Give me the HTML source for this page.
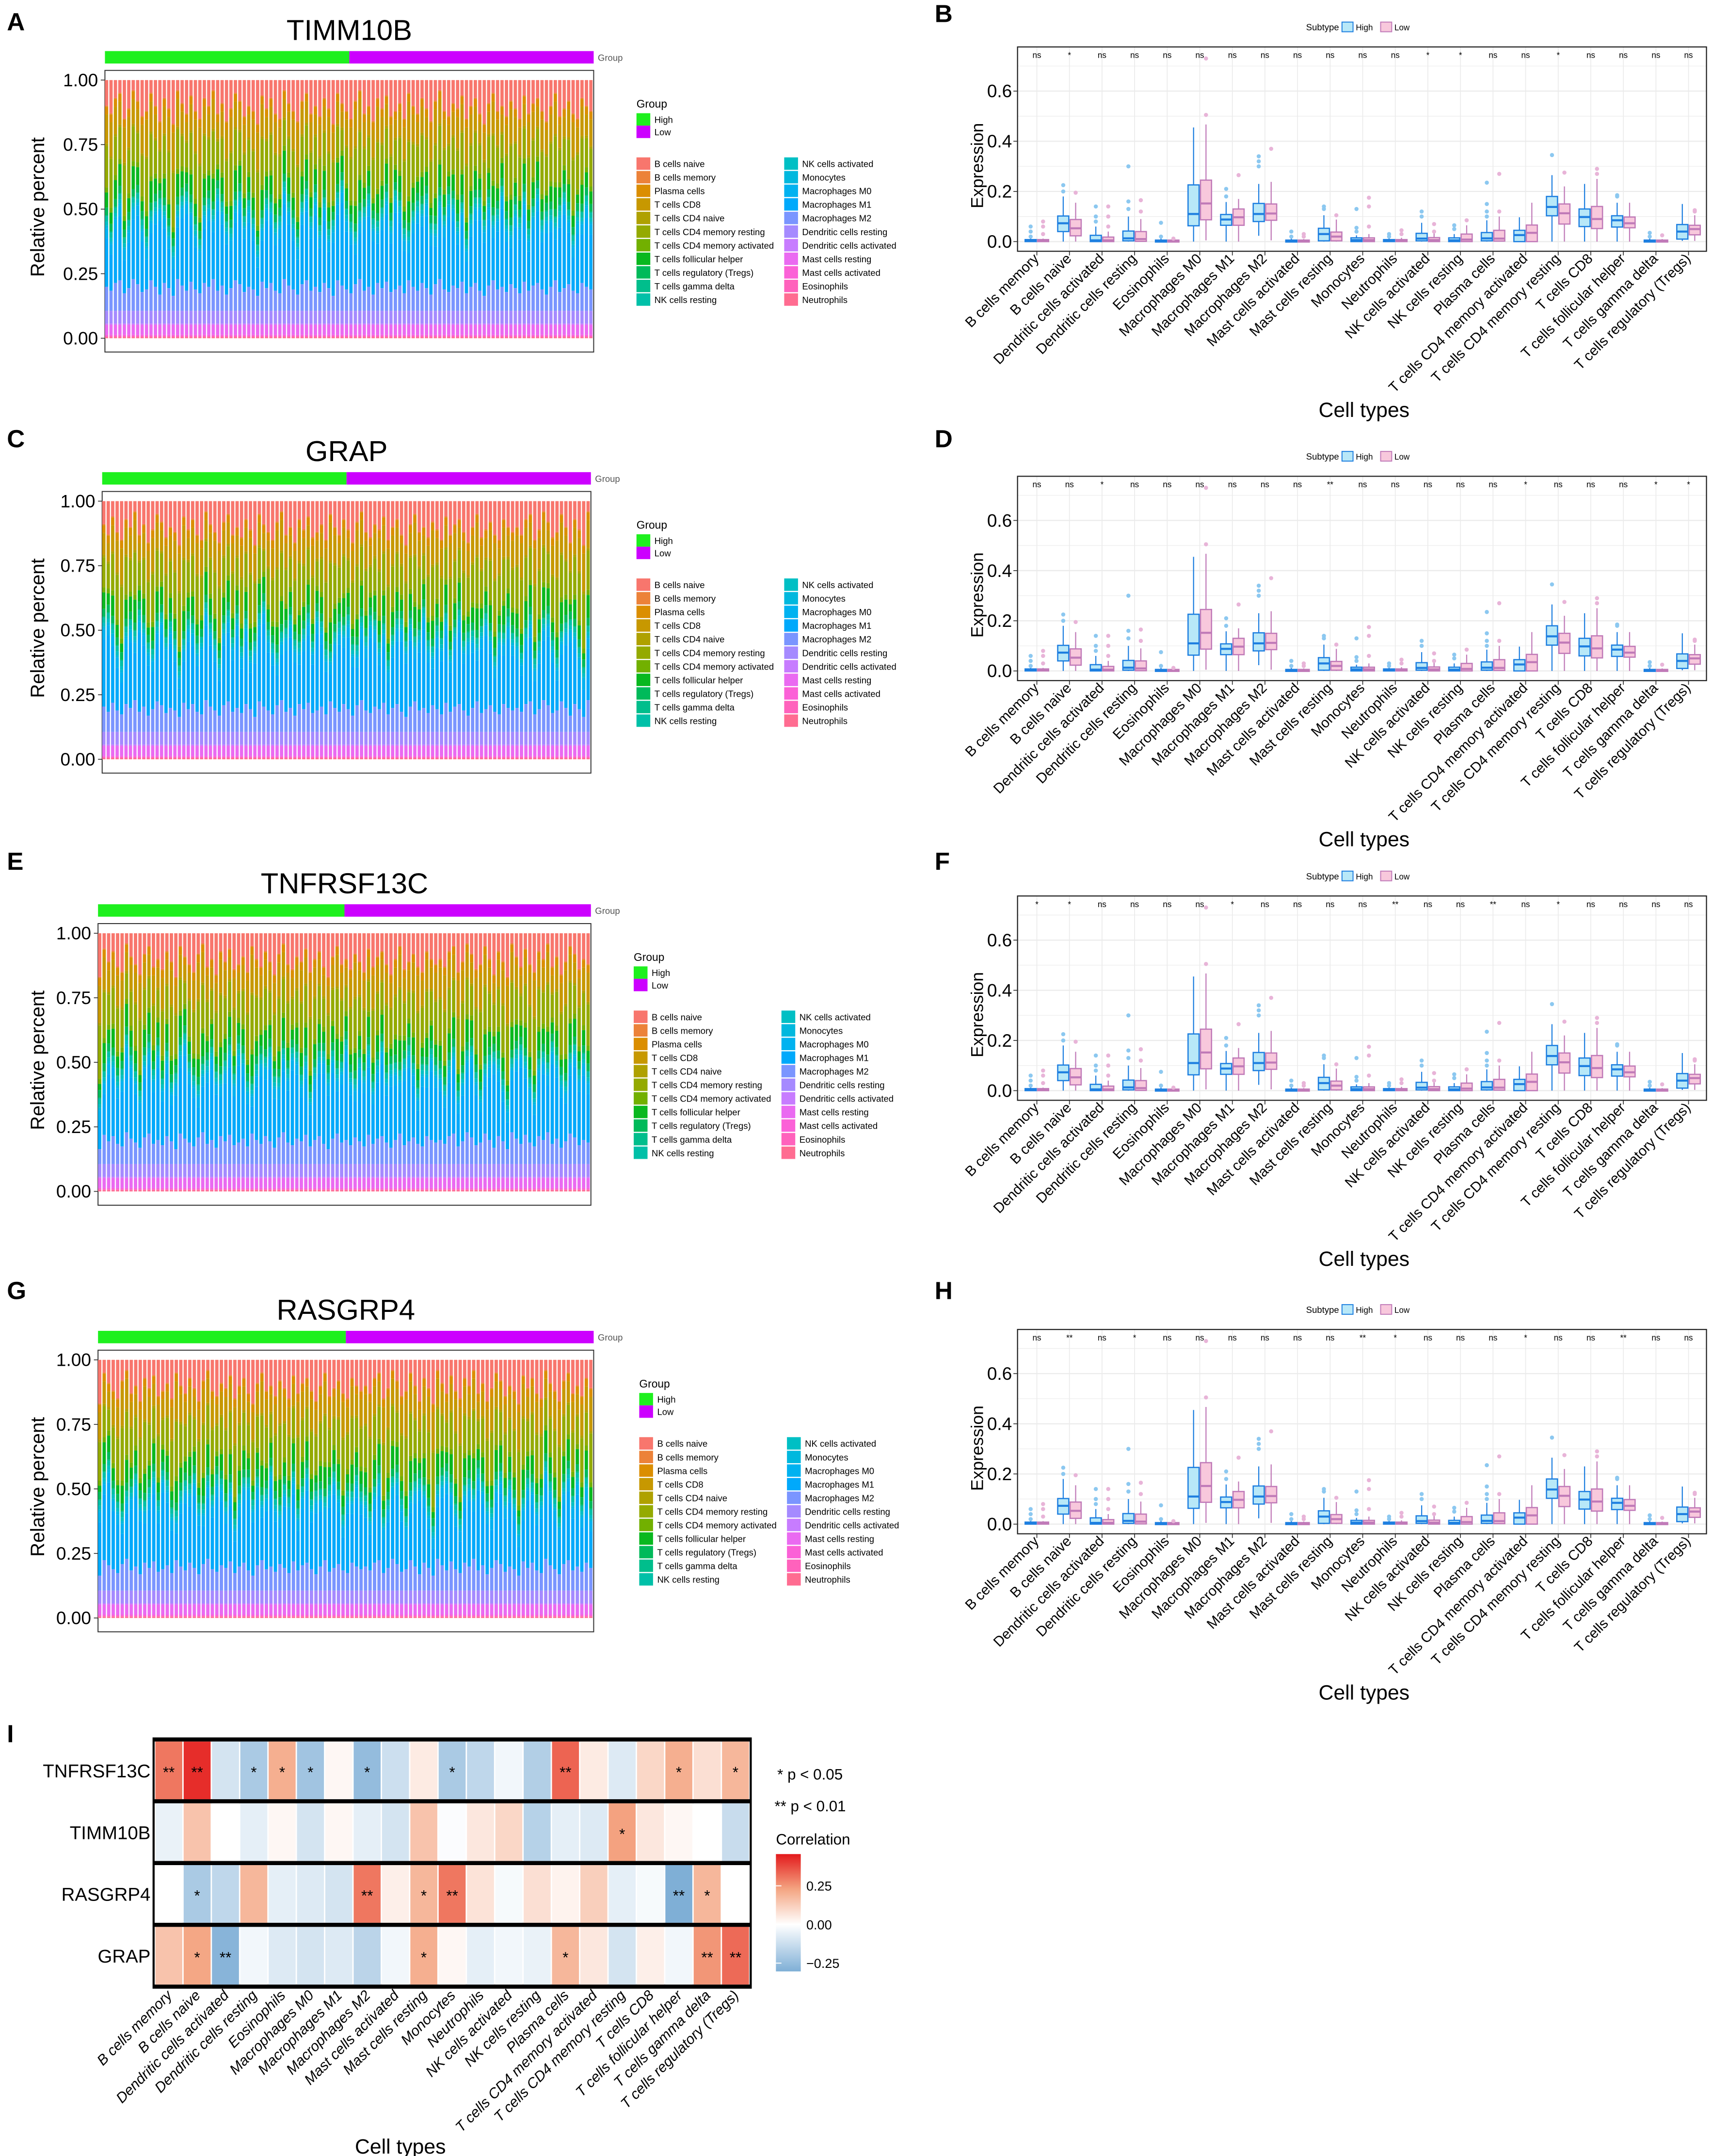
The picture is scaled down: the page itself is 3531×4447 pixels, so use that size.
<!DOCTYPE html>
<html><head><meta charset="utf-8">
<style>
html,body{margin:0;padding:0;background:#fff;}
svg{display:block;}
text{font-family:"Liberation Sans Narrow","Liberation Sans",sans-serif;}
</style></head>
<body>
<svg id="fig" xmlns="http://www.w3.org/2000/svg" width="3531" height="4447" viewBox="0 0 1240 1561.7" preserveAspectRatio="none">
<defs>
<linearGradient id="corrGrad" x1="0" y1="0" x2="0" y2="1">
<stop offset="0" stop-color="#E31A1C"/>
<stop offset="0.3" stop-color="#F4A582"/>
<stop offset="0.6" stop-color="#FFFFFF"/>
<stop offset="1" stop-color="#7FAFD6"/>
</linearGradient>
</defs>
</svg>
<script>
// ---------------- data ----------------
const cellTypes = ["B cells memory","B cells naive","Dendritic cells activated","Dendritic cells resting","Eosinophils","Macrophages M0","Macrophages M1","Macrophages M2","Mast cells activated","Mast cells resting","Monocytes","Neutrophils","NK cells activated","NK cells resting","Plasma cells","T cells CD4 memory activated","T cells CD4 memory resting","T cells CD8","T cells follicular helper","T cells gamma delta","T cells regulatory (Tregs)"];
const highQ1  = [0,0.04,0,0.003,0,0.063,0.065,0.08,0,0.003,0,0,0.003,0,0.003,0,0.103,0.06,0.058,0,0.01];
const highMed = [0.003,0.073,0.005,0.013,0.002,0.11,0.088,0.11,0.002,0.03,0.006,0.003,0.012,0.005,0.013,0.026,0.138,0.098,0.085,0.002,0.04];
const highQ3  = [0.008,0.102,0.025,0.042,0.006,0.226,0.108,0.152,0.006,0.053,0.015,0.008,0.033,0.015,0.036,0.045,0.18,0.13,0.103,0.006,0.068];
const highWLo = [0,0,0,0,0,0,0,0.023,0,0,0,0,0,0,0,0,0,0,0,0,0.003];
const highWHi = [0.012,0.18,0.06,0.1,0.012,0.455,0.158,0.23,0.012,0.105,0.025,0.015,0.075,0.03,0.085,0.097,0.265,0.23,0.155,0.012,0.15];
const highOut = [[0.02,0.04,0.06],[0.2,0.225],[0.08,0.1,0.14],[0.13,0.16,0.3],[0.02,0.075],[],[0.18,0.21],[0.3,0.32,0.34],[0.02,0.04],[0.13,0.14],[0.04,0.055,0.13],[0.02,0.03],[0.1,0.12],[0.05,0.065],[0.1,0.12,0.15,0.235],[],[0.345],[],[0.18,0.185],[0.02,0.035],[]];
const lowQ1  = [0,0.023,0,0.001,0,0.087,0.065,0.085,0,0.003,0,0,0,0,0.002,0,0.07,0.052,0.055,0,0.027];
const lowMed = [0.003,0.053,0.005,0.01,0.002,0.152,0.097,0.112,0.002,0.02,0.006,0.003,0.006,0.008,0.012,0.035,0.113,0.09,0.073,0.002,0.05];
const lowQ3  = [0.008,0.088,0.018,0.04,0.006,0.245,0.13,0.15,0.006,0.038,0.015,0.008,0.016,0.03,0.045,0.066,0.15,0.14,0.098,0.006,0.065];
const lowWLo = [0,0,0,0,0,0.005,0,0.005,0,0,0,0,0,0,0,0,0,0,0,0,0.003];
const lowWHi = [0.012,0.155,0.04,0.09,0.01,0.467,0.17,0.238,0.01,0.088,0.03,0.015,0.035,0.065,0.1,0.155,0.22,0.25,0.155,0.01,0.105];
const lowOut = [[0.03,0.06,0.08],[0.195],[0.06,0.1,0.14],[0.12,0.165],[0.012],[0.505,0.73],[0.265],[0.37],[0.02,0.03],[0.105],[0.06,0.14,0.175],[0.03,0.045],[0.04,0.07],[0.085],[0.12,0.27],[],[0.275],[0.27,0.29],[],[0.025],[0.12,0.125]];
const sigB = ["ns","*","ns","ns","ns","ns","ns","ns","ns","ns","ns","ns","*","*","ns","ns","*","ns","ns","ns","ns"];
const sigD = ["ns","ns","*","ns","ns","ns","ns","ns","ns","**","ns","ns","ns","ns","ns","*","ns","ns","ns","*","*"];
const sigF = ["*","*","ns","ns","ns","ns","*","ns","ns","ns","ns","**","ns","ns","**","ns","*","ns","ns","ns","ns"];
const sigH = ["ns","**","ns","*","ns","ns","ns","ns","ns","ns","**","*","ns","ns","ns","*","ns","ns","**","ns","ns"];
const yTicksBox = [0.0,0.2,0.4,0.6];

const stackTypes = ["B cells naive","B cells memory","Plasma cells","T cells CD8","T cells CD4 naive","T cells CD4 memory resting","T cells CD4 memory activated","T cells follicular helper","T cells regulatory (Tregs)","T cells gamma delta","NK cells resting","NK cells activated","Monocytes","Macrophages M0","Macrophages M1","Macrophages M2","Dendritic cells resting","Dendritic cells activated","Mast cells resting","Mast cells activated","Eosinophils","Neutrophils"];
const stackColors = ["#F8766D","#EC8239","#DB8E00","#C79800","#AFA100","#94AA00","#72B000","#09B81F","#00BA5A","#00BE8C","#00C0A8","#00BFC4","#00B8DE","#00B2F0","#00A9FB","#7A95FF","#A58AFF","#C77CFF","#EA6AF1","#FB61D7","#FF62BC","#FF6C91"];
const meanComposition = [0.07,0.005,0.03,0.12,0.01,0.17,0.02,0.075,0.03,0.005,0.02,0.015,0.01,0.04,0.18,0.11,0.05,0.005,0.04,0.005,0.003,0.005];
const sampleShift = [0.02,-0.06,0.05,0.12,-0.08,0.0,0.09,0.15,0.03,-0.1,0.01,0.11,0.18,0.06,-0.04,-0.12,0.04,0.14,0.2,0.07,-0.02,-0.09,0.06,0.13,0.01,0.22,0.1,0.03,-0.05,0.08,0.16,0.05,0.12,0.02,-0.11,-0.03,0.14,0.08,0.0,0.06,0.19,0.1,0.02,-0.07,0.09,0.15,0.04,0.17,-0.01,0.11,-0.06,0.05,0.13,0.24,0.08,0.02,-0.1,0.0,0.1,0.16,0.05,-0.04,0.08,0.14,0.02,0.2,0.11,-0.02,-0.12,0.05,0.14,0.07,0.17,0.02,-0.05,0.1,0.04,0.19,0.12,-0.01,0.07,-0.09,0.03,0.11,0.16,0.05,0.13,-0.02,0.08,0.21,0.03,-0.06,0.1,0.05,0.14,-0.04,0.07,0.17,0.01,0.1,0.06,-0.03,0.12,0.18,0.04,-0.08,0.09,0.02,0.15,0.06];
const redShift = [0.03,0.06,0.0,-0.02,0.08,0.04,-0.03,0.01,0.07,0.05,-0.02,0.03,0.09,0.0,0.04,0.1,-0.03,0.02,0.06,-0.01,0.05,0.08,0.0,0.03,-0.03,0.06,0.02,0.09,0.04,-0.02,0.01,0.07,0.03,0.05,0.1,-0.01,0.04,0.0,0.06,0.08,-0.03,0.02,0.05,0.09,0.01,-0.02,0.06,0.03,0.07,0.0,0.04,0.1,-0.02,0.02,0.05,0.08,0.01,-0.03,0.06,0.03,0.09,0.0,0.04,-0.01,0.07,0.05,0.02,0.08,-0.02,0.03,0.06,0.0,0.04,0.09,0.01,-0.03,0.05,0.07,0.02,0.04,-0.01,0.08,0.03,0.0,0.06,0.1,0.02,-0.02,0.05,0.03,0.07,0.01,0.04,0.08,-0.01,0.06,0.02,0.0,0.05,0.09,0.03,-0.02,0.07,0.04,0.01,0.06,0.08,0.0,0.03,0.05];
const genes = ["TIMM10B","GRAP","TNFRSF13C","RASGRP4"];

const heatRows = ["TNFRSF13C","TIMM10B","RASGRP4","GRAP"];
const corrTNF = [0.3,0.42,-0.1,-0.2,0.2,-0.22,0.02,-0.25,-0.12,0.05,-0.2,-0.15,-0.03,-0.18,0.33,0.05,-0.08,0.1,0.2,0.08,0.18];
const corrTIM = [-0.05,0.15,0,-0.06,0.02,-0.1,0.02,-0.06,-0.1,0.15,-0.01,0.06,0.1,-0.17,-0.06,-0.08,0.23,0.06,0.02,0.0,-0.13];
const corrRAS = [0,-0.2,-0.15,0.18,-0.06,-0.08,-0.1,0.3,0.04,0.18,0.3,0.07,-0.02,0.08,0.03,0.12,-0.06,-0.02,-0.3,0.18,0];
const corrGRA = [0.15,0.22,-0.28,-0.03,-0.08,-0.1,-0.08,-0.16,-0.03,0.2,0.02,-0.06,-0.03,-0.05,0.18,0.06,-0.1,0.04,-0.03,0.25,0.32];
const starTNF = ["**","**","","*","*","*","","*","","","*","","","","**","","","","*","","*"];
const starTIM = ["","","","","","","","","","","","","","","","","*","","","",""];
const starRAS = ["","*","","","","","","**","","*","**","","","","","","","","**","*",""];
const starGRA = ["","*","**","","","","","","","*","","","","","*","","","","","**","**"];
const corrTicks = [0.25,0.0,-0.25];

// ---------------- helpers ----------------
const NS = "http://www.w3.org/2000/svg";
const svg = document.getElementById("fig");
function mk(tag, attrs, parent){
  const e = document.createElementNS(NS, tag);
  for (const k in attrs) e.setAttribute(k, attrs[k]);
  (parent||svg).appendChild(e);
  return e;
}
function txt(s, attrs, parent){ const t = mk("text", attrs, parent); t.textContent = s; return t; }

// ---------------- panel letters ----------------
const letters = [["A",5,22],["B",677,16],["C",5,324],["D",677,324],["E",5,630],["F",677,630],["G",5,941],["H",677,941],["I",5,1262]];
letters.forEach(l=>{
  const t = txt(l[0],{x:l[1],y:l[2],"font-size":18,"font-weight":"bold","font-family":"Liberation Sans, sans-serif"});
  
  
});

// ---------------- stacked bar panels ----------------
const stackPanels = [{dy:0,x0:76,x1:430,lx:461},{dy:305,x0:74,x1:428,lx:461},{dy:618,x0:71,x1:428,lx:459},{dy:927,x0:71,x1:430,lx:463}];
stackPanels.forEach((p,pi)=>{
  const g = mk("g",{});
  
  
  const dy = p.dy;
  const yS = v => dy + 245 - v*187;
  const title = txt(genes[pi],{x:(p.x0+p.x1)/2,y:dy+29,"text-anchor":"middle","font-size":21,"font-family":"Liberation Sans, sans-serif"},g);
  
  
  const mid = (p.x0+p.x1)/2;
  const gh = mk("rect",{x:p.x0,y:dy+37,width:mid-p.x0,height:9,fill:"#1EF01E"},g);
  
  
  const gl = mk("rect",{x:mid,y:dy+37,width:p.x1-mid,height:9,fill:"#CC00FF"},g);
  
  
  const gt = txt("Group",{x:p.x1+3,y:dy+44,"font-size":6.5,fill:"#555"},g);
  
  
  const frame = mk("rect",{x:p.x0,y:dy+51,width:p.x1-p.x0,height:204,fill:"none",stroke:"#333","stroke-width":0.7},g);
  
  
  const n = sampleShift.length;
  const step = (p.x1-p.x0)/n;
  const sumMean = meanComposition.reduce((a,b)=>a+b,0);
  for (let s=0;s<n;s++){
    const comp = meanComposition.map(v=>v/sumMean);
    const idx = (s + pi*17) % n;
    const sh = sampleShift[idx]*0.6;
    comp[14] += sh;
    comp[5] -= sh*0.6;
    comp[3] -= sh*0.4;
    comp[0] += redShift[idx];
    comp[15] -= redShift[idx]*0.5;
    comp[7] -= redShift[idx]*0.5;
    let top = 1.0;
    const bx = p.x0 + s*step;
    for (let k=0;k<comp.length;k++){
      const h = Math.max(0,comp[k]);
      const r = mk("rect",{x:bx,y:yS(top),width:step*0.74,height:Math.max(0,yS(Math.max(0,top-h))-yS(top)),fill:stackColors[k]},g);
      
      
      top -= h;
    }
    if (top > 0){
      const r = mk("rect",{x:bx,y:yS(top),width:step*0.74,height:yS(0)-yS(top),fill:stackColors[21]},g);
      
      
    }
  }
  [0,0.25,0.5,0.75,1].forEach(v=>{
    const tl = mk("line",{x1:p.x0-3,x2:p.x0,y1:yS(v),y2:yS(v),stroke:"#333","stroke-width":0.6},g);
    
    
    const tt = txt(v.toFixed(2),{x:p.x0-5,y:yS(v)+4.5,"text-anchor":"end","font-size":13},g);
    
    
  });
  const yl = txt("Relative percent",{x:0,y:0,transform:`translate(32,${dy+150}) rotate(-90)`,"text-anchor":"middle","font-size":14,"font-family":"Liberation Sans, sans-serif"},g);
  
  
  // legend
  const lg = txt("Group",{x:p.lx,y:dy+78,"font-size":8},g);
  
  
  [["High","#1EF01E"],["Low","#CC00FF"]].forEach((e,i)=>{
    const r = mk("rect",{x:p.lx,y:dy+82+i*9,width:10,height:9,fill:e[1]},g);
    
    
    const t = txt(e[0],{x:p.lx+13,y:dy+89+i*9,"font-size":6.5},g);
    
    
  });
  stackTypes.forEach((name,k)=>{
    const col = k<11?0:1, row = k%11;
    const lx = p.lx + col*107, ly = dy + 114 + row*9.85;
    const r = mk("rect",{x:lx,y:ly,width:10,height:9,fill:stackColors[k]},g);
    
    
    const t = txt(name,{x:lx+13,y:ly+7,"font-size":6.5},g);
    
    
  });
});

// ---------------- box plot panels ----------------
const boxPanels = [{dy:0,sig:sigB,L:"B"},{dy:311,sig:sigD,L:"D"},{dy:615,sig:sigF,L:"F"},{dy:929,sig:sigH,L:"H"}];
boxPanels.forEach(p=>{
  const g = mk("g",{});
  
  
  const dy = p.dy;
  const X0 = 737, X1 = 1236, Y0 = dy+34, Y1 = dy+182;
  const yS = v => dy + 175 - v*181.7;
  const step = 23.6;
  const xS = i => 751 + i*step;
  // legend
  const lt = txt("Subtype",{x:946,y:dy+22,"font-size":6.5},g);
  
  
  [["High","#B8E8F8","#1E7FE0",972],["Low","#F8C8DC","#C07AB8",1000]].forEach(e=>{
    const r = mk("rect",{x:e[3],y:dy+16,width:8,height:7,fill:e[1],stroke:e[2],"stroke-width":0.7},g);
    
    
    const t = txt(e[0],{x:e[3]+10,y:dy+22,"font-size":6},g);
    
    
  });
  // grid
  for (let v=0; v<=0.8; v+=0.1){
    const yy = yS(v);
    if (yy < Y0) break;
    const gl = mk("line",{x1:X0,x2:X1,y1:yy,y2:yy,stroke:"#EBEBEB","stroke-width":Math.round(v*10)%2===0?0.8:0.4},g);
    
    
  }
  cellTypes.forEach((c,i)=>{
    const gl = mk("line",{x1:xS(i),x2:xS(i),y1:Y0,y2:Y1,stroke:"#EBEBEB","stroke-width":0.6},g);
    
    
  });
  // boxes
  const series = [
    {q1:highQ1,md:highMed,q3:highQ3,lo:highWLo,hi:highWHi,out:highOut,fill:"#B8E8F8",stroke:"#1E7FE0",oc:"#8CC8F0",off:-8.5,name:"high"},
    {q1:lowQ1,md:lowMed,q3:lowQ3,lo:lowWLo,hi:lowWHi,out:lowOut,fill:"#F8C8DC",stroke:"#C07AB8",oc:"#E8B4D8",off:0.5,name:"low"}
  ];
  cellTypes.forEach((c,i)=>{
    series.forEach(s=>{
      const bx = xS(i)+s.off, bw = 8, cx = bx+bw/2;
      const w = mk("line",{x1:cx,x2:cx,y1:yS(s.lo[i]),y2:yS(s.hi[i]),stroke:s.stroke,"stroke-width":0.8},g);
      
      
      const b = mk("rect",{x:bx,y:yS(s.q3[i]),width:bw,height:Math.max(1.4,yS(s.q1[i])-yS(s.q3[i])),fill:s.fill,stroke:s.stroke,"stroke-width":0.9},g);
      
      
      const m = mk("line",{x1:bx,x2:bx+bw,y1:yS(s.md[i]),y2:yS(s.md[i]),stroke:s.stroke,"stroke-width":1.5},g);
      
      
      s.out[i].forEach(o=>{
        const ci = mk("circle",{cx:cx,cy:yS(o),r:1.5,fill:s.oc},g);
        
        
      });
    });
    const st = txt(p.sig[i],{x:xS(i),y:dy+42,"text-anchor":"middle","font-size":6},g);
    
    
    const tk = mk("line",{x1:xS(i),x2:xS(i),y1:Y1,y2:Y1+3,stroke:"#333","stroke-width":0.6},g);
    
    
    const xl = txt(c,{x:0,y:0,transform:`translate(${xS(i)+2},${Y1+6}) rotate(-45)`,"text-anchor":"end","font-size":10.3,"font-family":"Liberation Sans, sans-serif"},g);
    
    
  });
  const frame = mk("rect",{x:X0,y:Y0,width:X1-X0,height:Y1-Y0,fill:"none",stroke:"#222","stroke-width":0.8},g);
  
  
  yTicksBox.forEach(v=>{
    const tl = mk("line",{x1:X0-3,x2:X0,y1:yS(v),y2:yS(v),stroke:"#333","stroke-width":0.6},g);
    
    
    const tt = txt(v.toFixed(1),{x:X0-4,y:yS(v)+4.5,"text-anchor":"end","font-size":13},g);
    
    
  });
  const yl = txt("Expression",{x:0,y:0,transform:`translate(712,${dy+120}) rotate(-90)`,"text-anchor":"middle","font-size":12.5,"font-family":"Liberation Sans, sans-serif"},g);
  
  
  const xt = txt("Cell types",{x:988,y:dy+302,"text-anchor":"middle","font-size":15,"font-family":"Liberation Sans, sans-serif"},g);
  
  
});

// ---------------- heatmap ----------------
(function(){
  const g = mk("g",{});
  
  
  const corrRows = [corrTNF,corrTIM,corrRAS,corrGRA];
  const starRows = [starTNF,starTIM,starRAS,starGRA];
  const HX0 = 112, HX1 = 543, HY0 = 1260, HY1 = 1439;
  const cw = (HX1-HX0)/cellTypes.length, rh = (HY1-HY0)/heatRows.length;
  function mix(a,b,t){ return a.map((v,i)=>Math.round(v+(b[i]-v)*t)); }
  function color(v){
    let c;
    if (v>=0){
      const t = Math.min(1,v/0.45);
      c = t<0.5 ? mix([255,255,255],[244,165,130],t/0.5) : mix([244,165,130],[228,26,28],(t-0.5)/0.5);
    } else {
      const t = Math.min(1,-v/0.3);
      c = mix([255,255,255],[127,175,214],t);
    }
    return `rgb(${c[0]},${c[1]},${c[2]})`;
  }
  const bg = mk("rect",{x:HX0-1.5,y:HY0-1.5,width:HX1-HX0+3,height:HY1-HY0+3,fill:"#000"},g);
  
  
  heatRows.forEach((rn,r)=>{
    const y = HY0 + r*rh;
    const band = mk("rect",{x:HX0,y:y+1.5,width:HX1-HX0,height:rh-3,fill:"#fff"},g);
    
    
    cellTypes.forEach((c,i)=>{
      const x = HX0 + i*cw;
      const cell = mk("rect",{x:x+0.5,y:y+1.5,width:cw-1,height:rh-3,fill:color(corrRows[r][i])},g);
      
      
      if (starRows[r][i]){
        const st = txt(starRows[r][i],{x:x+cw/2,y:y+rh/2+5,"text-anchor":"middle","font-size":11},g);
        
        
      }
    });
    const rl = txt(rn,{x:HX0-3,y:y+rh/2+5,"text-anchor":"end","font-size":13.5},g);
    
    
  });
  cellTypes.forEach((c,i)=>{
    const x = HX0 + i*cw + cw/2;
    const xl = txt(c,{x:0,y:0,transform:`translate(${x+3},${HY1+7}) rotate(-45)`,"text-anchor":"end","font-size":10.5,"font-style":"italic","font-family":"Liberation Sans, sans-serif"},g);
    
    
  });
  const xt = txt("Cell types",{x:290,y:1560,"text-anchor":"middle","font-size":15},g);
  
  
  const p1 = txt("* p < 0.05",{x:563,y:1289,"font-size":11},g);
  
  
  const p2 = txt("** p < 0.01",{x:561,y:1312,"font-size":11},g);
  
  
  const ct = txt("Correlation",{x:562,y:1336,"font-size":11},g);
  
  
  const cb = mk("rect",{x:562,y:1343,width:18,height:85,fill:"url(#corrGrad)"},g);
  
  
  const cy = v => 1394 - v*112;
  corrTicks.forEach(v=>{
    const tl = mk("line",{x1:562,x2:566,y1:cy(v),y2:cy(v),stroke:"#fff","stroke-width":0.7},g);
    
    
    const tt = txt((v<0?"\u22120.25":v.toFixed(2)),{x:584,y:cy(v)+3.5,"font-size":9.5},g);
    
    
  });
})();
</script>
</body></html>
